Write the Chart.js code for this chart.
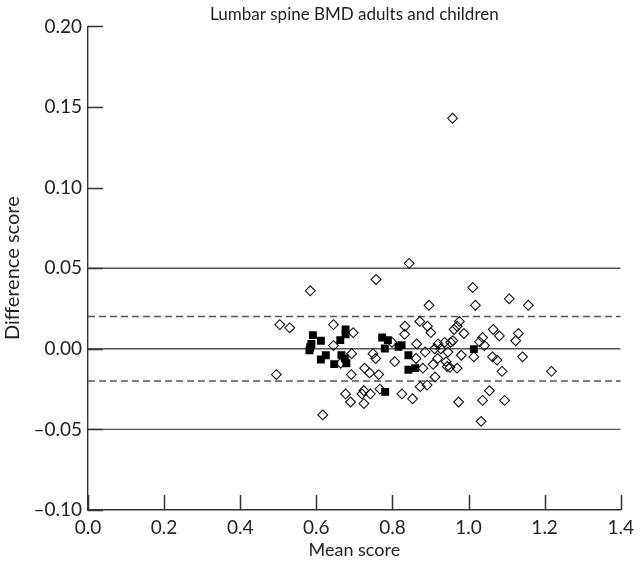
<!DOCTYPE html>
<html>
<head>
<meta charset="utf-8">
<script src="https://cdn.jsdelivr.net/npm/chart.js@4"></script>
<style>
html,body{margin:0;padding:0;background:#fff;}
#wrap{width:640px;height:563px;position:relative;}
</style>
</head>
<body>
<div id="wrap"><canvas id="c"></canvas></div>
<script>
const chartTitle = 'Lumbar spine BMD adults and children';
const xTitle = 'Mean score';
const yTitle = 'Difference score';

// Open diamonds
const diamondMean = [0.495,0.504,0.530,0.584,0.617,0.645,0.645,0.664,0.677,0.690,0.692,0.693,0.697,0.720,0.725,0.725,0.727,0.740,0.742,0.749,0.756,0.757,0.764,0.767,0.799,0.806,0.825,0.832,0.833,0.844,0.853,0.862,0.864,0.872,0.873,0.880,0.886,0.891,0.892,0.896,0.901,0.907,0.912,0.911,0.919,0.920,0.927,0.937,0.941,0.944,0.946,0.951,0.953,0.958,0.959,0.962,0.970,0.970,0.974,0.976,0.981,0.988,1.011,1.014,1.018,1.029,1.033,1.037,1.037,1.042,1.055,1.063,1.065,1.075,1.081,1.088,1.095,1.107,1.124,1.131,1.142,1.157,1.218];
const diamondDiff = [-0.016,0.015,0.013,0.036,-0.041,0.015,0.002,-0.009,-0.028,-0.033,-0.016,-0.003,0.010,-0.028,-0.026,-0.034,-0.012,-0.015,-0.028,-0.003,-0.006,0.043,-0.016,-0.025,0.004,-0.008,-0.028,0.009,0.014,0.053,-0.031,-0.006,0.003,0.017,-0.0235,-0.012,-0.002,-0.0225,0.014,0.027,0.010,-0.0097,-0.0175,0.000,-0.006,0.003,0.000,0.004,-0.008,-0.011,-0.002,-0.0115,0.004,0.143,0.005,0.012,0.014,-0.012,-0.033,0.017,-0.004,0.0095,0.038,-0.005,0.027,0.0043,-0.045,0.007,-0.032,0.002,-0.026,-0.005,0.012,-0.007,0.008,-0.014,-0.032,0.031,0.005,0.0095,-0.005,0.027,-0.014];

// Filled squares
const squareMean = [0.584,0.587,0.582,0.591,0.612,0.625,0.612,0.647,0.663,0.677,0.677,0.666,0.675,0.679,0.773,0.788,0.780,0.781,0.816,0.824,0.842,0.842,0.860,1.014];
const squareDiff = [0.001,0.003,-0.001,0.0085,0.005,-0.004,-0.0066,-0.0095,0.0054,0.012,0.009,-0.004,-0.006,-0.009,0.007,0.0054,0.0002,-0.0267,0.0013,0.0023,-0.004,-0.013,-0.012,-0.0002];

const solidLines = [0.05, 0, -0.05];
const dashedLines = [0.02, -0.02];
const xRange = [0, 1.4];
const yRange = [-0.10, 0.20];

const FONT = 'Lato, "Noto Sans", sans-serif';
const LINE = '#555';
const AXIS = '#333';

function pts(xs, ys){ return xs.map((x,i)=>({x:x, y:ys[i]})); }
function hline(v, dashed){
  return {type:'line', data:[{x:xRange[0],y:v},{x:xRange[1],y:v}], borderColor:LINE, borderWidth:1.4,
    borderDash: dashed ? [7,4] : [], pointRadius:0, fill:false, order:3, tension:0};
}

const datasets = [];
solidLines.forEach(v=>datasets.push(hline(v,false)));
dashedLines.forEach(v=>datasets.push(hline(v,true)));
datasets.push({type:'scatter', data:pts(diamondMean, diamondDiff), pointStyle:'rectRot', radius:4.9,
  borderColor:'#111', borderWidth:1.1, backgroundColor:'rgba(255,255,255,0)', order:2});
datasets.push({type:'scatter', data:pts(squareMean, squareDiff), pointStyle:'rect', radius:5.6,
  borderColor:'#000', borderWidth:0, backgroundColor:'#000', order:1});

function drawInnerTicks(chart){
  const ctx = chart.ctx, xs = chart.scales.x, ys = chart.scales.y;
  const a = chart.chartArea;
  ctx.save();
  ctx.strokeStyle = AXIS; ctx.lineWidth = 1.5; ctx.setLineDash([]);
  ctx.beginPath();
  xs.ticks.forEach(t=>{ const p = Math.round(xs.getPixelForValue(t.value)) + 0.5; ctx.moveTo(p, a.bottom); ctx.lineTo(p, a.bottom-15); });
  ys.ticks.forEach(t=>{ const p = Math.round(ys.getPixelForValue(t.value)) + 0.5; ctx.moveTo(a.left, p); ctx.lineTo(a.left+15, p); });
  ctx.stroke();
  ctx.restore();
}
const innerTicks = {
  id:'innerTicks',
  afterDatasetsDraw(chart){ drawInnerTicks(chart); }
};

new Chart(document.getElementById('c'), {
  data:{datasets},
  plugins:[innerTicks],
  options:{
    responsive:true, maintainAspectRatio:false, animation:false,
    layout:{padding:{left:0,right:14,top:0,bottom:0}},
    plugins:{
      legend:{display:false}, tooltip:{enabled:false},
      title:{display:true, text:chartTitle, fullSize:false, color:'#222',
        font:{family:FONT, size:17, weight:'normal'}, padding:{top:4,bottom:2}}
    },
    scales:{
      x:{type:'linear', min:xRange[0], max:xRange[1],
        afterFit(s){ s.height = 53; },
        border:{display:true, color:AXIS, width:1.4},
        grid:{display:false, drawTicks:false},
        ticks:{stepSize:0.2, padding:6, color:'#222', font:{family:FONT, size:19},
          callback:v=>Number(v).toFixed(1), maxRotation:0, autoSkip:false},
        title:{display:true, text:xTitle, color:'#222', font:{family:FONT, size:18}, padding:{top:0,bottom:2}}
      },
      y:{type:'linear', min:yRange[0], max:yRange[1],
        afterFit(s){ s.width = 88; },
        border:{display:true, color:AXIS, width:1.4},
        grid:{display:false, drawTicks:false},
        ticks:{stepSize:0.05, padding:6, color:'#222', font:{family:FONT, size:19},
          callback:v=>{ const s = Number(v).toFixed(2); return s.replace('-', '\u2013'); }, autoSkip:false},
        title:{display:true, text:yTitle, color:'#222', font:{family:FONT, size:20}, padding:{top:1,bottom:0}}
      }
    }
  }
});
</script>
</body>
</html>
